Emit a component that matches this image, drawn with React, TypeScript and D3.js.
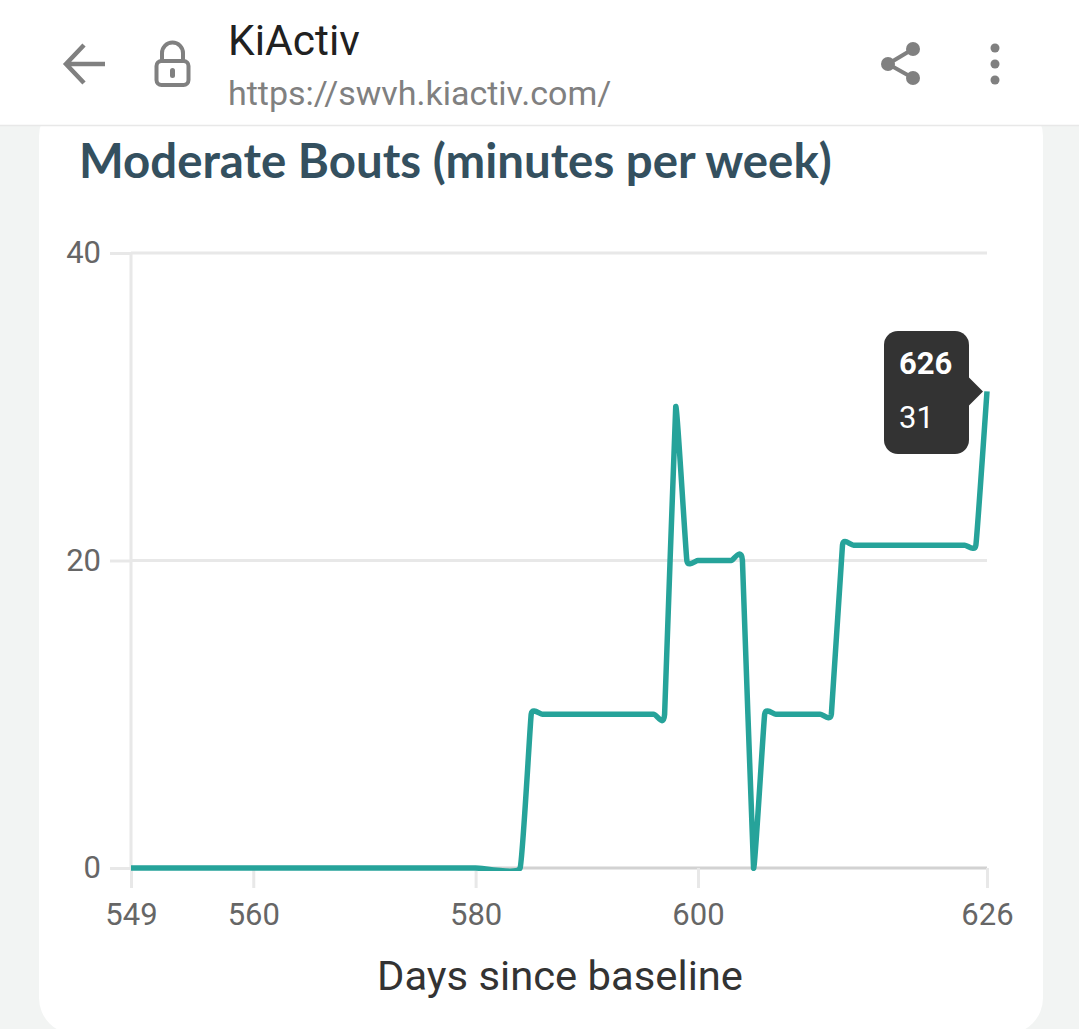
import React, { useEffect, useRef } from 'react';
import * as d3 from 'd3';

const days = [549, 560, 570, 580, 584, 585, 586, 590, 596, 597, 598, 599, 600, 603, 604, 605, 606, 607, 611, 612, 613, 614, 620, 624, 625, 626];
const minutes = [0, 0, 0, 0, 0, 10, 10, 10, 10, 10, 30, 20, 20, 20, 20, 0, 10, 10, 10, 10, 21, 21, 21, 21, 21, 31];
const xTicks = [549, 560, 580, 600, 626];
const yTicks = [0, 20, 40];
const tooltipDay = 626;
const tooltipValue = 31;

const App: React.FC = () => {
  const ref = useRef<SVGSVGElement>(null);

  useEffect(() => {
    if (!ref.current) return;
    document.body.style.margin = '0';

    const svg = d3.select(ref.current);
    svg.selectAll('g.chart').remove();
    const g = svg.append('g').attr('class', 'chart');

    const x = d3.scaleLinear().domain([549, 626]).range([131, 987]);
    const y = d3.scaleLinear().domain([0, 40]).range([868, 253]);

    // y axis with gridlines
    const yAxis = g.append('g')
      .attr('transform', 'translate(131,0)')
      .call(d3.axisLeft(y).tickValues(yTicks).tickSize(21).tickPadding(9).tickFormat(d3.format('d')));
    yAxis.select('.domain').remove();
    yAxis.selectAll('line').attr('stroke', '#e8e8e8').attr('stroke-width', 3);
    yAxis.selectAll('text')
      .attr('fill', '#666').attr('font-size', 31).attr('font-family', 'Roboto')
      .attr('dy', '0.32em');

    g.append('g')
      .selectAll('line')
      .data(yTicks)
      .join('line')
      .attr('x1', 131).attr('x2', 987)
      .attr('y1', d => y(d)).attr('y2', d => y(d))
      .attr('stroke', d => (d === 0 ? '#d2d2d2' : '#e8e8e8'))
      .attr('stroke-width', 3);

    // x axis
    const xAxis = g.append('g')
      .attr('transform', 'translate(0,868)')
      .call(d3.axisBottom(x).tickValues(xTicks).tickSize(20).tickPadding(15).tickFormat(d3.format('d')));
    xAxis.select('.domain').remove();
    xAxis.selectAll('line').attr('stroke', '#e8e8e8').attr('stroke-width', 3);
    xAxis.selectAll('text')
      .attr('fill', '#666').attr('font-size', 31).attr('font-family', 'Roboto');

    g.append('line')
      .attr('x1', 131).attr('x2', 131)
      .attr('y1', 253).attr('y2', 868)
      .attr('stroke', '#e8e8e8').attr('stroke-width', 3);

    g.append('text')
      .attr('x', 560).attr('y', 990)
      .attr('text-anchor', 'middle')
      .attr('font-family', 'Roboto').attr('font-size', 40)
      .attr('textLength', 366)
      .attr('lengthAdjust', 'spacingAndGlyphs')
      .attr('fill', '#333')
      .text('Days since baseline');

    const line = d3.line<number>()
      .x((_, i) => x(days[i]))
      .y(d => y(d))
      .curve(d3.curveCardinal.tension(0.72));

    // the series is clipped to the plot area, so undershoot below zero is cut
    svg.select('defs').remove();
    svg.append('defs').append('clipPath').attr('id', 'plot')
      .append('rect')
      .attr('x', 131).attr('y', 253)
      .attr('width', 860).attr('height', 618);

    g.append('path')
      .attr('d', line(minutes))
      .attr('fill', 'none')
      .attr('stroke', '#26a39a')
      .attr('stroke-width', 5.5)
      .attr('stroke-linejoin', 'round')
      .attr('clip-path', 'url(#plot)');

    // tooltip
    const px = x(tooltipDay);
    const py = y(tooltipValue);
    const tip = g.append('g');
    tip.append('rect')
      .attr('x', 884).attr('y', 331)
      .attr('width', 85).attr('height', 123)
      .attr('rx', 14)
      .attr('fill', '#333');
    tip.append('path')
      .attr('d', `M${px - 18},${py - 14}L${px - 4},${py}L${px - 18},${py + 14}Z`)
      .attr('fill', '#333');
    tip.append('text')
      .attr('x', 899).attr('y', 374)
      .attr('font-family', 'Roboto').attr('font-weight', 700).attr('font-size', 31)
      .attr('fill', '#fff')
      .text(tooltipDay);
    tip.append('text')
      .attr('x', 899).attr('y', 428)
      .attr('font-family', 'Roboto').attr('font-size', 31)
      .attr('fill', '#fff')
      .text(tooltipValue);
  }, []);

  return (
    <svg ref={ref} width={1079} height={1029} style={{ display: 'block', position: 'absolute', left: 0, top: 0 }}>
      <rect width={1079} height={1029} fill="#f2f4f3" />
      <rect x={39} y={100} width={1004} height={934} rx={36} fill="#fff" />
      <rect width={1079} height={125} fill="#fff" />
      <line x1={0} x2={1079} y1={125.5} y2={125.5} stroke="#e8e8e8" strokeWidth={1.5} />

      {/* browser bar */}
      <path d="M105,64H68M84,45L66,64L84,83" fill="none" stroke="#808080" strokeWidth={4.5} />
      <rect x={156.500} y={61} width={32} height={24} rx={5} fill="none" stroke="#808080" strokeWidth={4} />
      <path d="M162,61V53a10.500,10.500 0 0 1 21,0V61" fill="none" stroke="#808080" strokeWidth={4} />
      <rect x={170} y={68} width={5} height={10} rx={2.500} fill="#808080" />
      <text x={228} y={55} fontFamily="Roboto" fontSize={42.500} fill="#212121">KiActiv</text>
      <text x={228} y={105} fontFamily="Roboto" fontSize={34} fill="#808080">https://swvh.kiactiv.com/</text>
      <path d="M913,49L888,64L913,78" fill="none" stroke="#808080" strokeWidth={4} />
      <circle cx={913} cy={49} r={7} fill="#808080" />
      <circle cx={888} cy={64} r={7} fill="#808080" />
      <circle cx={913} cy={78} r={7} fill="#808080" />
      <circle cx={995} cy={48} r={4.500} fill="#808080" />
      <circle cx={995} cy={64} r={4.500} fill="#808080" />
      <circle cx={995} cy={80} r={4.500} fill="#808080" />

      <text x={79} y={178} fontFamily="Lato" fontWeight={700} fontSize={47.400} fill="#34505f">Moderate Bouts (minutes per week)</text>
    </svg>
  );
};

export default App;
